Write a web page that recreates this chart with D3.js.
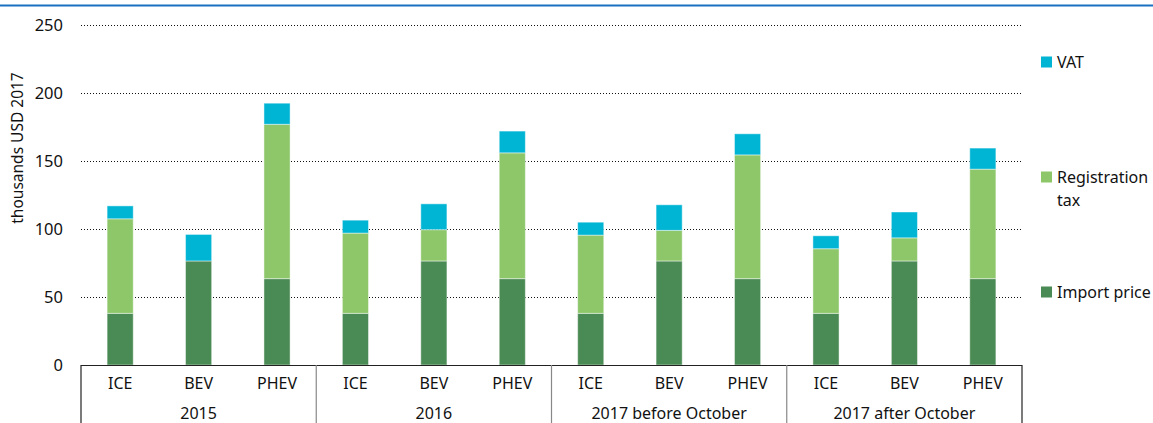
<!DOCTYPE html>
<html>
<head>
<meta charset="utf-8">
<script src="https://cdn.jsdelivr.net/npm/d3@7"></script>
<style>
  body { margin: 0; background: #fff; }
  text { font-family: "Noto Sans", sans-serif; fill: #111; }
</style>
</head>
<body>
<div id="chart"></div>
<script>
const width = 1153;
const height = 423;

const groups = ["2015", "2016", "2017 before October", "2017 after October"];
const vehicles = ["ICE", "BEV", "PHEV"];

// thousands USD 2017, one value per bar (group x vehicle)
const importPrice     = [38, 76.5, 63.5,  38, 76.5, 63.5,  38, 76.5, 63.5,  38, 76.5, 63.5];
const registrationTax = [69.5, 0, 113.5,  59, 23, 92.5,  57.5, 22.5, 91,  47.5, 17, 80.5];
const vat             = [9.5, 19.5, 15.5,  9.5, 19, 16,  9.5, 18.8, 15.5,  9.5, 19, 15.5];

const yTicks = [0, 50, 100, 150, 200, 250];

const seriesKeys = ["Import price", "Registration tax", "VAT"];
const colors = { "Import price": "#4a8a54", "Registration tax": "#8dc76a", "VAT": "#00b4d4" };

const rows = [];
groups.forEach((g, gi) => {
  vehicles.forEach((v, vi) => {
    const i = gi * vehicles.length + vi;
    rows.push({ key: g + "|" + v, group: g, vehicle: v,
      "Import price": importPrice[i], "Registration tax": registrationTax[i], "VAT": vat[i] });
  });
});

const svg = d3.select("#chart").append("svg")
  .attr("width", width)
  .attr("height", height);

// blue rule at top
svg.append("line")
  .attr("x1", 0).attr("x2", width)
  .attr("y1", 5.5).attr("y2", 5.5)
  .attr("stroke", "#1a70c0")
  .attr("stroke-width", 2);

const left = 81, right = 1022;

const x = d3.scaleBand()
  .domain(rows.map(d => d.key))
  .range([left, right])
  .paddingInner(0.667)
  .paddingOuter(0.333);

const y = d3.scaleLinear()
  .domain([0, 250])
  .range([365, 25]);

// gridlines
svg.append("g")
  .selectAll("line")
  .data(yTicks.filter(t => t > 0))
  .join("line")
  .attr("x1", left).attr("x2", right)
  .attr("y1", d => Math.round(y(d)) + 0.5).attr("y2", d => Math.round(y(d)) + 0.5)
  .attr("stroke", "#111")
  .attr("stroke-width", 1)
  .attr("stroke-dasharray", "1,2");

// y tick labels
svg.append("g")
  .selectAll("text")
  .data(yTicks)
  .join("text")
  .attr("x", 63)
  .attr("y", d => y(d))
  .attr("dy", "0.35em")
  .attr("text-anchor", "end")
  .attr("font-size", "16.5px")
  .text(d => d);

svg.append("text")
  .attr("transform", "translate(23,148) rotate(-90)")
  .attr("text-anchor", "middle")
  .attr("font-size", "15.5px")
  .text("thousands USD 2017");

// stacked bars
const stacked = d3.stack().keys(seriesKeys)(rows);

svg.append("g")
  .selectAll("g")
  .data(stacked)
  .join("g")
  .attr("fill", d => colors[d.key])
  .selectAll("rect")
  .data(d => d.filter(s => s[1] - s[0] > 0))
  .join("rect")
  .attr("x", d => x(d.data.key))
  .attr("y", d => y(d[1]))
  .attr("width", x.bandwidth())
  .attr("height", d => y(d[0]) - y(d[1]))
  .attr("stroke", "rgba(255,255,255,0.45)")
  .attr("stroke-width", 1);

// category axis (two levels)
const axis = svg.append("g");
axis.append("line")
  .attr("x1", left).attr("x2", right)
  .attr("y1", 365.5).attr("y2", 365.5)
  .attr("stroke", "#222");

const groupW = (right - left) / groups.length;

axis.selectAll("line.sep")
  .data(d3.range(groups.length + 1))
  .join("line")
  .attr("class", "sep")
  .attr("x1", i => left + i * groupW)
  .attr("x2", i => left + i * groupW)
  .attr("y1", 365).attr("y2", height)
  .attr("stroke", i => (i === 0 || i === groups.length) ? "#222" : "#888")
  .attr("stroke-width", 1.2);

axis.selectAll("text.cat")
  .data(rows)
  .join("text")
  .attr("class", "cat")
  .attr("x", d => x(d.key) + x.bandwidth() / 2)
  .attr("y", 389)
  .attr("text-anchor", "middle")
  .attr("font-size", "16px")
  .text(d => d.vehicle);

axis.selectAll("text.grp")
  .data(groups)
  .join("text")
  .attr("class", "grp")
  .attr("x", (g, i) => left + (i + 0.5) * groupW)
  .attr("y", 419)
  .attr("text-anchor", "middle")
  .attr("font-size", "16px")
  .text(d => d);

// legend
const legendItems = [
  { key: "VAT", lines: ["VAT"], y: 62 },
  { key: "Registration tax", lines: ["Registration", "tax"], y: 177 },
  { key: "Import price", lines: ["Import price"], y: 292 }
];

const legend = svg.append("g").selectAll("g")
  .data(legendItems)
  .join("g")
  .attr("transform", d => `translate(1041,${d.y})`);

legend.append("rect")
  .attr("x", 0).attr("y", -5.5)
  .attr("width", 11).attr("height", 11)
  .attr("fill", d => colors[d.key]);

legend.append("text")
  .attr("font-size", "16px")
  .selectAll("tspan")
  .data(d => d.lines)
  .join("tspan")
  .attr("x", 16)
  .attr("y", (l, i) => i * 23)
  .attr("dy", "0.35em")
  .text(l => l);
</script>
</body>
</html>
